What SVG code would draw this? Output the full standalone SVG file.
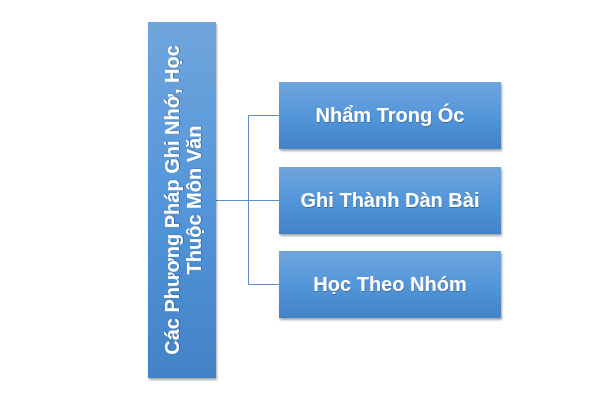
<svg xmlns="http://www.w3.org/2000/svg" width="600" height="400" viewBox="0 0 600 400">
<defs>
<linearGradient id="g" x1="0" y1="0" x2="0" y2="1">
<stop offset="0" stop-color="#70a5dc"/>
<stop offset="0.5" stop-color="#5496da"/>
<stop offset="1" stop-color="#4382c6"/>
</linearGradient>
<filter id="sh" x="-10%" y="-10%" width="130%" height="130%">
<feDropShadow dx="1" dy="2" stdDeviation="1.2" flood-color="#000" flood-opacity="0.35"/>
</filter>
<filter id="ts" x="-10%" y="-10%" width="120%" height="130%">
<feDropShadow dx="0.5" dy="1" stdDeviation="0.6" flood-color="#1b3f6b" flood-opacity="0.5"/>
</filter>
</defs>
<style>
.box{fill:url(#g);filter:url(#sh);}
.t{font-family:"Liberation Sans",Arial,sans-serif;font-weight:bold;font-size:20px;fill:#fff;text-anchor:middle;filter:url(#ts);}
.c{fill:none;stroke:#5b8ec8;stroke-width:1;}
</style>
<rect width="600" height="400" fill="#fff"/>
<g id="connectors">
<path class="c" d="M216 200.5H248.5M248.5 115.5V284.5M248.5 115.5H279M248.5 200.5H279M248.5 284.5H279"/>
</g>
<g id="root">
<rect class="box" x="148" y="22" width="68" height="356"/>
<text class="t" transform="translate(182 200) rotate(-90)"><tspan x="0" y="-3">Các Phương Pháp Ghi Nhớ, Học</tspan><tspan x="0" y="19">Thuộc Môn Văn</tspan></text>
</g>
<g id="n1">
<rect class="box" x="279" y="82" width="222" height="67"/>
<text class="t" x="390" y="122">Nhẩm Trong Óc</text>
</g>
<g id="n2">
<rect class="box" x="279" y="167" width="222" height="67"/>
<text class="t" x="390" y="207">Ghi Thành Dàn Bài</text>
</g>
<g id="n3">
<rect class="box" x="279" y="251" width="222" height="67"/>
<text class="t" x="390" y="291">Học Theo Nhóm</text>
</g>
</svg>
